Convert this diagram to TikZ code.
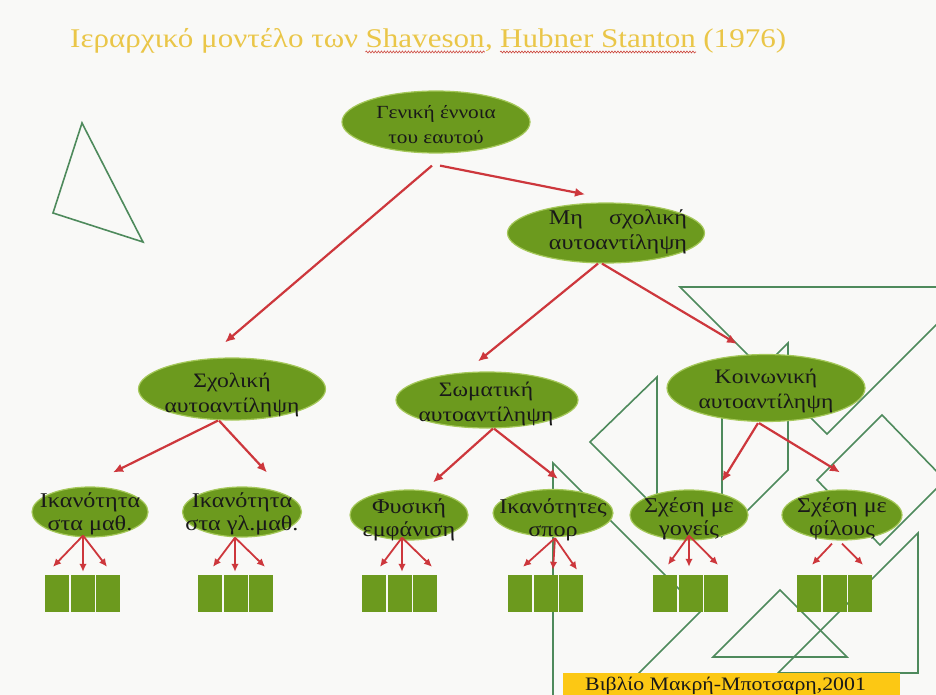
\documentclass[tikz,border=0pt]{standalone}
\usepackage{fontspec}
\setmainfont{Liberation Serif}[FakeStretch=1.15]
\usetikzlibrary{shapes.geometric,arrows.meta,decorations.pathmorphing}
\definecolor{bgc}{RGB}{249,249,247}
\definecolor{olivefill}{RGB}{108,154,30}
\definecolor{oliveedge}{RGB}{165,200,90}
\definecolor{decogreen}{RGB}{78,138,92}
\definecolor{arrowred}{RGB}{205,55,60}
\definecolor{titlegold}{RGB}{234,198,72}
\definecolor{labelgold}{RGB}{252,200,20}
\definecolor{squigred}{RGB}{205,70,60}
\newsavebox\autobox
\begin{document}
\sbox\autobox{\fontsize{21}{25}\selectfont αυτοαντίληψη}%
\begin{tikzpicture}[x=1pt,y=-1pt,
  deco/.style={draw=decogreen,line width=1.6pt,line join=miter},
  ell/.style={ellipse,fill=olivefill,draw=oliveedge,line width=1.2pt,inner sep=0pt},
  gtxt/.style={align=center,inner sep=0pt,text=black!90,font=\fontsize{18.5}{25}\selectfont},
  txt/.style={align=center,inner sep=0pt,text=black!90,font=\fontsize{20.5}{25}\selectfont},
  stxt/.style={align=center,inner sep=0pt,text=black!90,font=\fontsize{21}{23.5}\selectfont},
  arr/.style={draw=arrowred,line width=2.2pt,-{Latex[length=10pt,width=9pt]}},
  sarr/.style={draw=arrowred,line width=1.8pt,-{Latex[length=8pt,width=7.5pt]}},
  cell/.style={fill=olivefill,minimum width=24pt,minimum height=37pt,inner sep=0pt},
  ttl/.style={anchor=base west,inner sep=0pt,text=titlegold,font=\fontsize{27}{30}\selectfont},
  squig/.style={draw=squigred,line width=0.6pt,decorate,decoration={snake,amplitude=1pt,segment length=3pt}}
]
\useasboundingbox (0,0) rectangle (936,695);
\fill[bgc] (0,0) rectangle (936,695);

% decorative outlines
\begin{scope}
\clip (0,0) rectangle (936,695);
\draw[deco] (82,123) -- (53,213) -- (143,242) -- cycle;
\draw[deco] (680,287) -- (827,434) -- (974,287) -- cycle;
\draw[deco] (657,377) -- (590,442) -- (657,509) -- cycle;
\draw[deco] (553,463) -- (701,611) -- (553,759) -- cycle;
\draw[deco] (788,343) -- (722,409) -- (722,536) -- (788,470) -- cycle;
\draw[deco] (882,415) -- (817,480) -- (880,545) -- (945,480) -- cycle;
\draw[deco] (918,533) -- (778,673) -- (918,673) -- cycle;
\draw[deco] (780,590) -- (713,657) -- (847,657) -- cycle;
\end{scope}

% title
\node[ttl] (t1) at (70,48) {Ιεραρχικό μοντέλο των};
\node[ttl] (t2) at ([shift={(7,0)}]t1.base east) {Shaveson};
\node[ttl] (t3) at (t2.base east) {,};
\node[ttl] (t4) at ([shift={(7,0)}]t3.base east) {Hubner Stanton};
\node[ttl] (t5) at ([shift={(7,0)}]t4.base east) {(1976)};
\draw[squig] ([shift={(0,4)}]t2.base west) -- ([shift={(0,4)}]t2.base east);
\draw[squig] ([shift={(0,4)}]t4.base west) -- ([shift={(0,4)}]t4.base east);

% ellipses
\node[ell,minimum width=188pt,minimum height=62pt] (g) at (436,122) {};
\node[ell,minimum width=197pt,minimum height=60pt] (ms) at (606,233) {};
\node[ell,minimum width=187pt,minimum height=62pt] (sx) at (232,389) {};
\node[ell,minimum width=182pt,minimum height=56pt] (sm) at (487,400) {};
\node[ell,minimum width=198pt,minimum height=67pt] (k) at (766,388) {};
\node[ell,minimum width=116pt,minimum height=50pt] (e1) at (90,512) {};
\node[ell,minimum width=119pt,minimum height=50pt] (e2) at (242,512) {};
\node[ell,minimum width=118pt,minimum height=50pt] (e3) at (409,515) {};
\node[ell,minimum width=120pt,minimum height=47pt] (e4) at (553,513) {};
\node[ell,minimum width=118pt,minimum height=50pt] (e5) at (689,515) {};
\node[ell,minimum width=120pt,minimum height=50pt] (e6) at (842,515) {};

% texts
\node[gtxt] (gt) at (436,125) {Γενική έννοια\\του εαυτού};
\node[txt,font=\fontsize{21}{25}\selectfont] (mst) at (618,232) {\hbox to \wd\autobox{Μη\hfill σχολική}\\αυτοαντίληψη};
\node[txt] (sxt) at (232,395) {Σχολική\\αυτοαντίληψη};
\node[txt] (smt) at (486,404) {Σωματική\\αυτοαντίληψη};
\node[txt] (kt) at (766,391) {Κοινωνική\\αυτοαντίληψη};
\node[stxt] (e1t) at (90,514) {Ικανότητα\\στα μαθ.};
\node[stxt] (e2t) at (242,514) {Ικανότητα\\στα γλ.μαθ.};
\node[stxt] (e3t) at (409,520) {Φυσική\\εμφάνιση};
\node[stxt] (e4t) at (553,520) {Ικανότητες\\σπορ};
\node[stxt] (e5t) at (689,519) {Σχέση με\\γονείς};
\node[stxt] (e6t) at (842,519) {Σχέση με\\φίλους};

% cells
\foreach \g/\L in {1/45,2/198,3/362,4/508,5/653,6/797}{
  \foreach \i in {1,2,3}{
    \node[cell] (b\g\i) at ({\L+12+25.5*(\i-1)},593.5) {};
  }
}

% main arrows
\draw[arr] ([shift={(4,12)}]g.south) -- ([shift={(-21,-8)}]ms.north);
\draw[arr] ([shift={(-4,12)}]g.south) -- ([shift={(-7,-15)}]sx.north);
\draw[arr] ([shift={(-8,0)}]ms.south) -- ([shift={(-9,-10)}]sm.north);
\draw[arr] ([shift={(-4,0)}]ms.south) -- ([shift={(-29,-10)}]k.north);
\draw[arr] ([shift={(-14,0)}]sx.south) -- ([shift={(23,-14)}]e1.north);
\draw[arr] ([shift={(-13,0)}]sx.south) -- ([shift={(25,-14)}]e2.north);
\draw[arr] ([shift={(6,0)}]sm.south) -- ([shift={(24,-7)}]e3.north);
\draw[arr] ([shift={(7,0)}]sm.south) -- ([shift={(5,-10)}]e4.north);
\draw[arr] ([shift={(-8,1)}]k.south) -- ([shift={(33,-8)}]e5.north);
\draw[arr] ([shift={(-7,1)}]k.south) -- ([shift={(-2,-17)}]e6.north);

% small arrows
\draw[sarr] ([shift={(-7,-2)}]e1.south) -- ([shift={(-4,-8)}]b11.north);
\draw[sarr] ([shift={(-7,-2)}]e1.south) -- ([shift={(0.5,-3)}]b12.north);
\draw[sarr] ([shift={(-7,-2)}]e1.south) -- ([shift={(-1,-8)}]b13.north);
\draw[sarr] ([shift={(-7,0)}]e2.south) -- ([shift={(3,-8)}]b21.north);
\draw[sarr] ([shift={(-7,0)}]e2.south) -- ([shift={(-0.5,-3)}]b22.north);
\draw[sarr] ([shift={(-7,0)}]e2.south) -- ([shift={(4,-8)}]b23.north);
\draw[sarr] ([shift={(-7,-3)}]e3.south) -- ([shift={(6,-8)}]b31.north);
\draw[sarr] ([shift={(-7,-3)}]e3.south) -- ([shift={(2.5,-3)}]b32.north);
\draw[sarr] ([shift={(-7,-3)}]e3.south) -- ([shift={(7,-8)}]b33.north);
\draw[sarr] ([shift={(2,1)}]e4.south) -- ([shift={(3,-8)}]b41.north);
\draw[sarr] ([shift={(2,1)}]e4.south) -- ([shift={(7.5,-5)}]b42.north);
\draw[sarr] ([shift={(2,1)}]e4.south) -- ([shift={(6,-5)}]b43.north);
\draw[sarr] ([shift={(0,-5)}]e5.south) -- ([shift={(3,-10)}]b51.north);
\draw[sarr] ([shift={(0,-5)}]e5.south) -- ([shift={(-1.5,-8)}]b52.north);
\draw[sarr] ([shift={(0,-5)}]e5.south) -- ([shift={(2,-10)}]b53.north);
\draw[sarr] ([shift={(-10,3)}]e6.south) -- ([shift={(3,-10)}]b61.north);
\draw[sarr] ([shift={(0,3)}]e6.south) -- ([shift={(3,-10)}]b63.north);

% source label
\node[fill=labelgold,minimum width=337pt,minimum height=26pt,inner sep=0pt,anchor=north west] (srcbg) at (563,673) {};
\node[anchor=base west,inner sep=0pt,text=black!90,font=\fontsize{19}{21}\selectfont] (src) at (585,690) {Βιβλίο Μακρή-Μποτσαρη,2001};
\end{tikzpicture}
\end{document}
